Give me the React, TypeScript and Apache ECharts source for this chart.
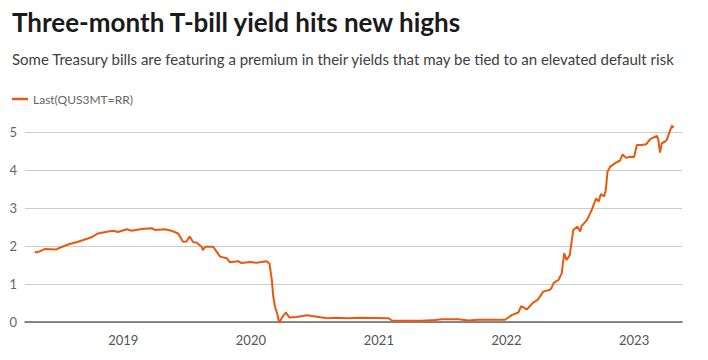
import React, { useEffect, useRef } from "react";
import * as echarts from "echarts";

const titleText = "Three-month T-bill yield hits new highs";
const subtitleText =
  "Some Treasury bills are featuring a premium in their yields that may be tied to an elevated default risk";
const seriesName = "Last(QUS3MT=RR)";

const dates: string[] = [
  "2018-04-23", "2018-04-30", "2018-05-21", "2018-06-24", "2018-06-30", "2018-07-27",
  "2018-08-25", "2018-10-02", "2018-10-21", "2018-11-19", "2018-12-03", "2018-12-17",
  "2019-01-11", "2019-01-25", "2019-02-23", "2019-03-24", "2019-04-02", "2019-04-30",
  "2019-05-19", "2019-06-07", "2019-06-21", "2019-07-01", "2019-07-10", "2019-07-20",
  "2019-07-29", "2019-08-13", "2019-08-17", "2019-08-23", "2019-09-15", "2019-09-25",
  "2019-10-05", "2019-10-24", "2019-11-02", "2019-11-26", "2019-12-05", "2019-12-29",
  "2020-01-17", "2020-02-15", "2020-02-23", "2020-03-01", "2020-03-05", "2020-03-10",
  "2020-03-16", "2020-03-22", "2020-03-29", "2020-04-10", "2020-04-20", "2020-05-11",
  "2020-06-09", "2020-07-08", "2020-08-06", "2020-09-03", "2020-10-02", "2020-11-09",
  "2021-01-29", "2021-02-07", "2021-03-17", "2021-05-04", "2021-06-11", "2021-06-30",
  "2021-08-16", "2021-09-14", "2021-10-12", "2021-11-29", "2021-12-28", "2022-01-16",
  "2022-02-04", "2022-02-12", "2022-02-28", "2022-03-18", "2022-03-31", "2022-04-16",
  "2022-05-04", "2022-05-09", "2022-05-16", "2022-05-30", "2022-06-08", "2022-06-15",
  "2022-06-22", "2022-07-01", "2022-07-11", "2022-07-23", "2022-07-31", "2022-08-04",
  "2022-08-19", "2022-09-02", "2022-09-14", "2022-09-22", "2022-09-28", "2022-10-07",
  "2022-10-12", "2022-10-17", "2022-10-25", "2022-11-08", "2022-11-22", "2022-11-29",
  "2022-12-09", "2022-12-20", "2023-01-01", "2023-01-09", "2023-01-22", "2023-02-05",
  "2023-02-16", "2023-03-07", "2023-03-11", "2023-03-16", "2023-03-21", "2023-03-31",
  "2023-04-05", "2023-04-14", "2023-04-20", "2023-04-23",
];

const yields: number[] = [
  1.85, 1.83, 1.92, 1.91, 1.94, 2.04,
  2.11, 2.23, 2.33, 2.38, 2.40, 2.37,
  2.44, 2.40, 2.45, 2.47, 2.42, 2.44,
  2.40, 2.33, 2.11, 2.12, 2.25, 2.10,
  2.09, 1.98, 1.89, 1.98, 1.98, 1.85,
  1.72, 1.68, 1.57, 1.60, 1.55, 1.58,
  1.56, 1.60, 1.54, 1.10, 0.67, 0.40,
  0.23, -0.02, 0.10, 0.25, 0.12, 0.13,
  0.18, 0.14, 0.10, 0.11, 0.10, 0.11,
  0.10, 0.04, 0.03, 0.03, 0.05, 0.07,
  0.07, 0.04, 0.06, 0.06, 0.06, 0.18,
  0.25, 0.42, 0.33, 0.51, 0.58, 0.80,
  0.84, 0.88, 1.03, 1.11, 1.28, 1.81,
  1.63, 1.76, 2.42, 2.51, 2.38, 2.53,
  2.68, 2.95, 3.25, 3.17, 3.37, 3.30,
  3.47, 3.96, 4.09, 4.18, 4.25, 4.41,
  4.32, 4.35, 4.34, 4.66, 4.66, 4.68,
  4.81, 4.90, 4.81, 4.46, 4.70, 4.75,
  4.80, 5.05, 5.17, 5.10,
];

const xTickYears: number[] = [2019, 2020, 2021, 2022, 2023];
const xMin = "2018-03-26";
const xMax = "2023-05-18";
const yMin = 0;
const yMax = 5;
const yInterval = 1;

const FONT = "Lato, 'Noto Sans', sans-serif";
const ORANGE = "#e8590c";

const ts = (d: string) => Date.parse(d + "T00:00:00Z");

export default function App() {
  const ref = useRef<HTMLDivElement>(null);
  useEffect(() => {
    if (!ref.current) return;
    const chart = echarts.init(ref.current, undefined, { renderer: "svg" });
    const tickValues = xTickYears.map((y) => ts(`${y}-01-01`));
    chart.setOption({
      animation: false,
      backgroundColor: "#ffffff",
      textStyle: { fontFamily: FONT },
      title: [
        {
          text: titleText,
          left: 12,
          top: 9,
          padding: 0,
          textStyle: { fontSize: 26, fontWeight: "bold", color: "#1a1a1a", fontFamily: FONT },
        },
        {
          text: subtitleText,
          left: 12,
          top: 51,
          padding: 0,
          textStyle: { fontSize: 15, fontWeight: "normal", color: "#404040", fontFamily: FONT },
        },
      ],
      legend: {
        left: 12,
        top: 93,
        padding: 0,
        icon: "rect",
        itemWidth: 16,
        itemHeight: 2.5,
        itemGap: 10,
        textStyle: { fontSize: 12, color: "#666", fontFamily: FONT },
        data: [seriesName],
      },
      grid: { left: 25, right: 26, top: 132, bottom: 38, containLabel: false },
      xAxis: {
        type: "value",
        min: ts(xMin),
        max: ts(xMax),
        axisLine: { show: true, onZero: false, lineStyle: { color: "#666", width: 1.5 } },
        axisTick: { show: false },
        splitLine: { show: false },
        axisLabel: {
          customValues: tickValues,
          formatter: (v: number) => String(new Date(v).getUTCFullYear()),
          color: "#555",
          fontSize: 13,
          margin: 11,
          fontFamily: FONT,
        },
      },
      yAxis: {
        type: "value",
        min: yMin,
        max: yMax,
        interval: yInterval,
        axisLine: { show: false },
        axisTick: { show: false },
        splitLine: { lineStyle: { color: "#cccccc", width: 1 } },
        axisLabel: { color: "#666", fontSize: 13, margin: 8, fontFamily: FONT },
      },
      series: [
        {
          name: seriesName,
          type: "line",
          data: dates.map((d, i) => [ts(d), yields[i]]),
          showSymbol: false,
          symbol: "none",
          clip: false,
          lineStyle: { color: ORANGE, width: 2 },
          itemStyle: { color: ORANGE },
        },
      ],
    });
    return () => chart.dispose();
  }, []);
  return (
    <div
      ref={ref}
      style={{ position: "fixed", left: 0, top: 0, width: 708, height: 360 }}
    />
  );
}
